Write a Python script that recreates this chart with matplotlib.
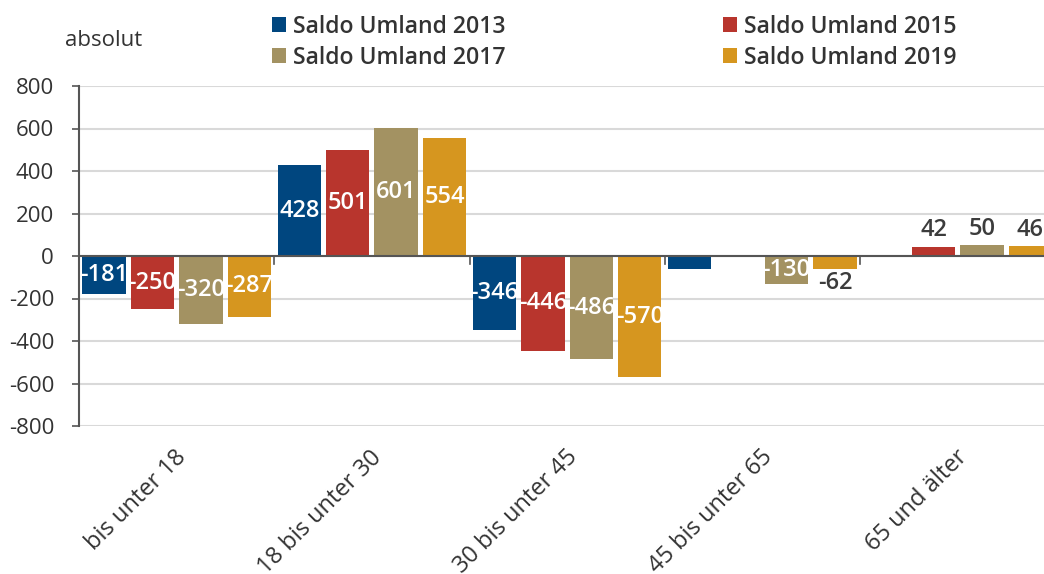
import matplotlib.pyplot as plt
import numpy as np

plt.rcParams['font.family'] = ['Open Sans', 'DejaVu Sans']

categories = ['bis unter 18', '18 bis unter 30', '30 bis unter 45', '45 bis unter 65', '65 und älter']
series = ['Saldo Umland 2013', 'Saldo Umland 2015', 'Saldo Umland 2017', 'Saldo Umland 2019']
values = [
    [-181, 428, -346, -62, -5],
    [-250, 501, -446, 0, 42],
    [-320, 601, -486, -130, 50],
    [-287, 554, -570, -62, 46],
]
# labels shown on the chart (None = no label)
labels = [
    ['-181', '428', '-346', None, None],
    ['-250', '501', '-446', None, '42'],
    ['-320', '601', '-486', '-130', '50'],
    ['-287', '554', '-570', '-62', '46'],
]
colors = ['#00467f', '#b8352d', '#a39262', '#d6961f']
yticks = [-800, -600, -400, -200, 0, 200, 400, 600, 800]

fig = plt.figure(figsize=(10.44, 5.74), dpi=100)
ax = fig.add_axes([79 / 1044, 1 - 426 / 574, (1044 - 79) / 1044, 340 / 574])

x = np.arange(len(categories))
step = 0.248
width = 0.222
for i in range(len(series)):
    pos = x + (i - 1.5) * step
    ax.bar(pos, values[i], width, color=colors[i], zorder=3, label=series[i])
    for j, v in enumerate(values[i]):
        lab = labels[i][j]
        if lab is None:
            continue
        kw = dict(ha='center', fontsize=17, fontweight='semibold', fontstretch='normal', zorder=5)
        if abs(v) >= 100:
            ax.text(pos[j], v / 2, lab, va='center', color='white', **kw)
        elif v >= 0:
            ax.text(pos[j], v + 22, lab, va='bottom', color='#3c3c3c', **kw)
        else:
            ax.text(pos[j], v - 10, lab, va='top', color='#3c3c3c', **kw)

ax.set_ylim(-800, 800)
ax.set_xlim(-0.5, 4.442)
ax.set_yticks(yticks)
ax.set_yticklabels([str(t) for t in yticks], fontsize=16, color='#333333')
ax.yaxis.grid(True, color='#d9d9d9', linewidth=1.5, zorder=0)
ax.set_axisbelow(True)

ax.set_xticks(x - 0.01)
ax.set_xticklabels(categories, rotation=45, ha='right', rotation_mode='anchor',
                   fontsize=17, color='#333333')
ax.tick_params(axis='x', length=0, pad=14)
ax.tick_params(axis='y', length=5, width=1.2, color='#555555', pad=13)

# category boundary ticks on the zero line
for b in np.arange(0.5, 4.5, 1.0):
    ax.plot([b, b], [0, -38], color='#555555', linewidth=1.2, zorder=4, clip_on=False)
ax.axhline(0, color='#555555', linewidth=1.5, zorder=4)

for s in ['top', 'right', 'bottom']:
    ax.spines[s].set_visible(False)
ax.spines['left'].set_color('#555555')
ax.spines['left'].set_linewidth(1.5)

fig.text(65 / 1044, 1 - 40 / 574, 'absolut', fontsize=16, color='#333333', va='center')

handles, hl = ax.get_legend_handles_labels()
order = [0, 2, 1, 3]
leg = fig.legend([handles[k] for k in order], [hl[k] for k in order], ncol=2,
                 loc='upper left', bbox_to_anchor=(251 / 1044, 1 + 6 / 574),
                 frameon=False, fontsize=16.6, handlelength=0.62, handleheight=0.62,
                 handletextpad=0.31, columnspacing=9.4, labelspacing=0.3)
for t in leg.get_texts():
    t.set_fontweight('semibold')
    t.set_fontstretch('normal')
    t.set_color('#333333')

fig.savefig('out.png', dpi=100)
